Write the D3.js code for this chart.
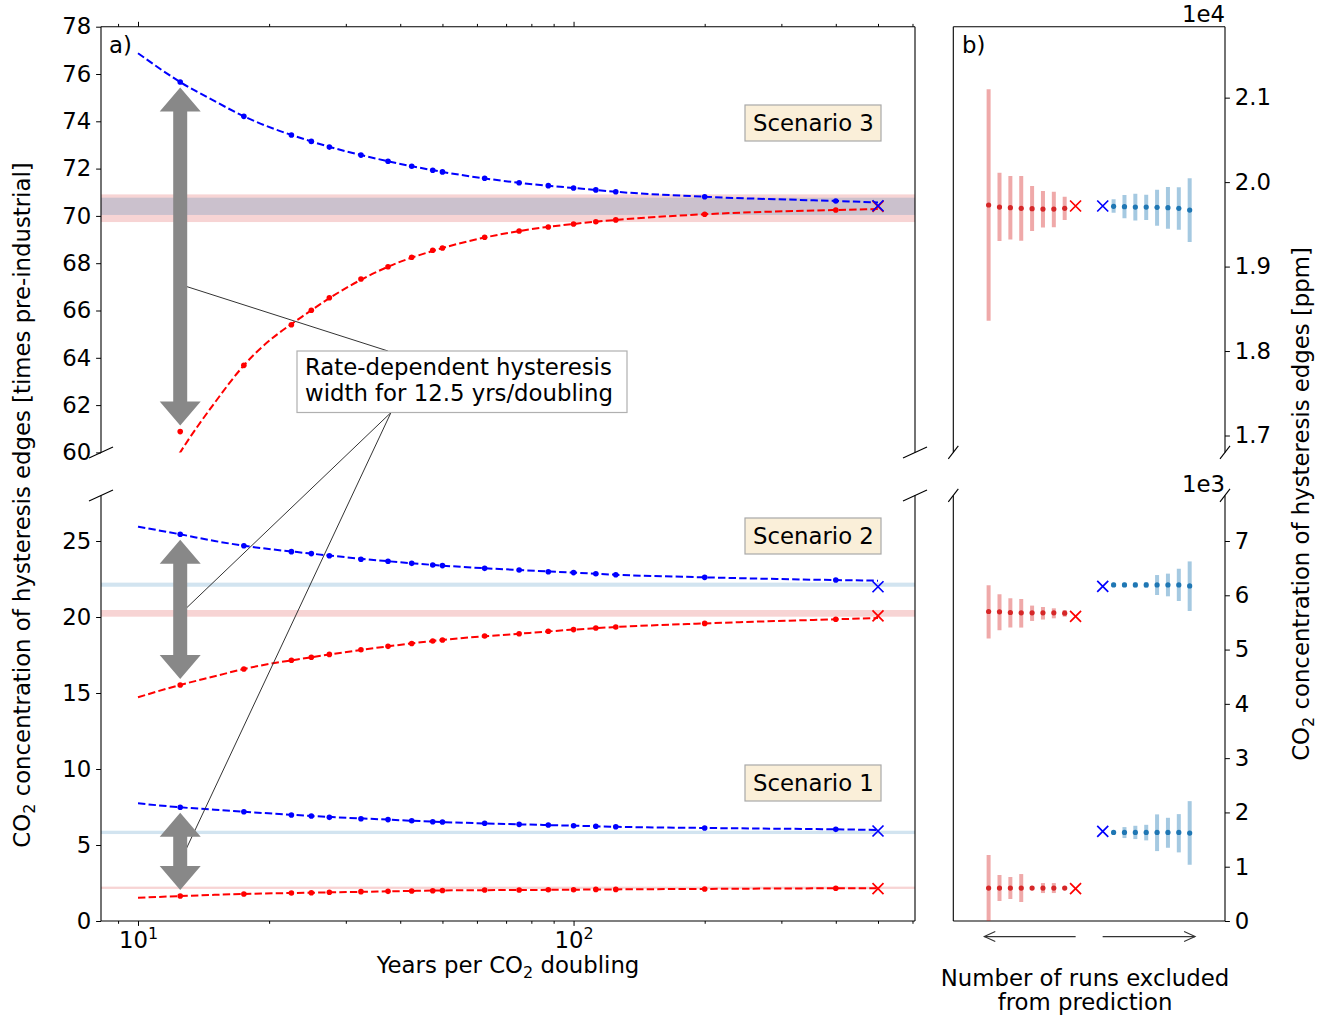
<!DOCTYPE html>
<html><head><meta charset="utf-8">
<script src="https://cdn.jsdelivr.net/npm/d3@7"></script>
<style>
body{margin:0;background:#fff}
svg{display:block}
text{font-family:"DejaVu Sans",sans-serif;fill:#000}
</style>
</head><body>
<svg id="c" width="1325" height="1017"></svg>
<script>
// ---------------- DATA ----------------
// Panel a: years per CO2 doubling at which runs were made
const rates = [12.5, 17.5, 22.5, 25, 27.5, 32.5, 37.5, 42.5, 47.5, 50, 62.5, 75, 87.5, 100, 112.5, 125, 200, 400];
// hysteresis edges [times pre-industrial]
const s3Upper = [75.66, 74.21, 73.42, 73.15, 72.91, 72.57, 72.31, 72.10, 71.93, 71.86, 71.59, 71.40, 71.28, 71.18, 71.10, 71.02, 70.81, 70.63];
const s3Lower = [60.88, 63.68, 65.40, 66.01, 66.54, 67.33, 67.85, 68.25, 68.55, 68.64, 69.10, 69.36, 69.53, 69.66, 69.75, 69.83, 70.07, 70.25];
const s2Upper = [25.44, 24.69, 24.30, 24.17, 24.03, 23.80, 23.67, 23.53, 23.42, 23.38, 23.20, 23.09, 22.98, 22.92, 22.85, 22.78, 22.61, 22.43];
const s2Lower = [15.53, 16.58, 17.15, 17.35, 17.54, 17.85, 18.07, 18.26, 18.42, 18.49, 18.75, 18.90, 19.06, 19.17, 19.28, 19.34, 19.58, 19.85];
const s1Upper = [7.48, 7.19, 6.97, 6.91, 6.82, 6.73, 6.67, 6.60, 6.53, 6.51, 6.43, 6.36, 6.32, 6.27, 6.23, 6.20, 6.12, 6.03];
const s1Lower = [1.64, 1.78, 1.84, 1.86, 1.89, 1.93, 1.95, 1.97, 1.99, 2.01, 2.04, 2.04, 2.06, 2.06, 2.08, 2.08, 2.11, 2.15];
// fitted curves
const fitRates = [10, 12.5, 15, 17.5, 25, 37.5, 50, 75, 100, 125, 200, 400, 500];
const s3UpperFit = [76.88, 75.66, 74.85, 74.21, 73.15, 72.31, 71.86, 71.40, 71.18, 71.02, 70.81, 70.63, 70.57];
const s3LowerFit = [56.8, 60.0, 62.1, 63.68, 66.01, 67.85, 68.64, 69.36, 69.66, 69.83, 70.07, 70.25, 70.29];
const s2UpperFit = [25.94, 25.44, 25.00, 24.69, 24.17, 23.67, 23.38, 23.09, 22.92, 22.78, 22.61, 22.43, 22.39];
const s2LowerFit = [14.72, 15.53, 16.10, 16.58, 17.35, 18.07, 18.49, 18.90, 19.17, 19.34, 19.58, 19.85, 19.93];
const s1UpperFit = [7.74, 7.48, 7.32, 7.19, 6.91, 6.67, 6.51, 6.36, 6.27, 6.20, 6.12, 6.03, 5.99];
const s1LowerFit = [1.53, 1.64, 1.72, 1.78, 1.86, 1.95, 2.01, 2.04, 2.06, 2.08, 2.11, 2.15, 2.15];
// equilibrium (quasi-static) edges at 500 yrs/doubling
const eqRate = 500;
const eqUpper = [70.43, 21.99, 5.92];   // scenario 3, 2, 1
const eqLower = [70.40, 20.07, 2.13];
// predicted ranges (bands)
const bandUpper = [[70.04, 70.77], [21.99, 22.26], [5.72, 5.94]];
const bandLower = [[69.74, 70.91], [20.02, 20.46], [2.11, 2.26]];
const scenarioNames = ["Scenario 3", "Scenario 2", "Scenario 1"];
const widthRate = 12.5;

// Panel b: number of runs excluded from prediction
const nExcluded = [1, 2, 3, 4, 5, 6, 7, 8];
const s3RedMid  = [19690, 19681, 19681, 19685, 19690, 19697, 19705, 19729];
const s3RedLo   = [19551, 19467, 19464, 19421, 19306, 19322, 19302, 18358];
const s3RedHi   = [19827, 19886, 19895, 19954, 20072, 20072, 20111, 21100];
const s3BlueMid = [19713, 19709, 19705, 19705, 19701, 19697, 19690, 19669];
const s3BlueLo  = [19637, 19571, 19547, 19551, 19483, 19448, 19436, 19290];
const s3BlueHi  = [19796, 19847, 19863, 19851, 19910, 19942, 19938, 20045];
const s2RedMid  = [5670, 5676, 5676, 5676, 5676, 5683, 5696, 5701];
const s2RedLo   = [5606, 5576, 5553, 5527, 5405, 5405, 5355, 5203];
const s2RedHi   = [5729, 5760, 5784, 5810, 5932, 5944, 6018, 6184];
const s2BlueMid = [6190, 6190, 6190, 6190, 6190, 6190, 6190, 6172];
const s2BlueLo  = [6157, 6150, 6145, 6140, 6005, 5981, 5895, 5711];
const s2BlueHi  = [6233, 6235, 6240, 6245, 6373, 6399, 6489, 6624];
const s1RedMid  = [607, 607, 607, 607, 607, 607, 607, 607];
const s1RedLo   = [591, 515, 515, 580, 350, 405, 368, 0];
const s1RedHi   = [633, 699, 699, 640, 865, 810, 847, 1215];
const s1BlueMid = [1632, 1632, 1632, 1632, 1632, 1632, 1632, 1620];
const s1BlueLo  = [1602, 1528, 1509, 1485, 1288, 1349, 1264, 1036];
const s1BlueHi  = [1663, 1730, 1754, 1772, 1964, 1901, 1969, 2208];
const eqRedPpm  = [19717, 5613, 595];
const eqBluePpm = [19717, 6165, 1651];
const preIndustrial = 280;

// tick values
const yTopTicks = [60, 62, 64, 66, 68, 70, 72, 74, 76, 78];
const yBotTicks = [0, 5, 10, 15, 20, 25];
const xMajor = [10, 100];
const xMinor = [9, 20, 30, 40, 50, 60, 70, 80, 90, 200, 300, 400, 500, 600];
const yTopTicksB = [17000, 18000, 19000, 20000, 21000];
const yBotTicksB = [0, 1000, 2000, 3000, 4000, 5000, 6000, 7000];

// ---------------- LAYOUT ----------------
const svg = d3.select("#c");
const FS = 22.8;
const aL = 101, aR = 915, bL = 953.3, bR = 1225;
const topT = 26.7, topB = 452.4, botT = 495.4, botB = 921;
const span = Math.log10(500 / 10);
const xA = d3.scaleLog().domain([Math.pow(10, 1 - 0.05 * span), Math.pow(10, Math.log10(500) + 0.05 * span)]).range([aL, aR]);
const yTop = d3.scaleLinear().domain([60, 78]).range([topB, topT]);
const yBot = d3.scaleLinear().domain([0, 28]).range([botB, botT]);
const yTopB = d3.scaleLinear().domain([60 * preIndustrial, 78 * preIndustrial]).range([topB, topT]);
const yBotB = d3.scaleLinear().domain([0, 28 * preIndustrial]).range([botB, botT]);
const xB = d3.scaleLinear().domain([-12.5, 12.5]).range([bL, bR]);

const BLUE = "#0000ff", RED = "#ff0000", TBLUE = "#1f77b4", TRED = "#d62728";

const defs = svg.append("defs");
defs.append("clipPath").attr("id", "clipTop").append("rect").attr("x", aL).attr("y", topT).attr("width", aR - aL).attr("height", topB - topT);
defs.append("clipPath").attr("id", "clipBot").append("rect").attr("x", aL).attr("y", botT).attr("width", aR - aL).attr("height", botB - botT);
defs.append("clipPath").attr("id", "clipTopB").append("rect").attr("x", bL).attr("y", topT).attr("width", bR - bL).attr("height", topB - topT);
defs.append("clipPath").attr("id", "clipBotB").append("rect").attr("x", bL).attr("y", botT).attr("width", bR - bL).attr("height", botB - botT);

const scen = [
  {up: s3Upper, lo: s3Lower, upFit: s3UpperFit, loFit: s3LowerFit, y: yTop, clip: "clipTop"},
  {up: s2Upper, lo: s2Lower, upFit: s2UpperFit, loFit: s2LowerFit, y: yBot, clip: "clipBot"},
  {up: s1Upper, lo: s1Lower, upFit: s1UpperFit, loFit: s1LowerFit, y: yBot, clip: "clipBot"}
];

// ---- panel a: bands
scen.forEach((s, i) => {
  const g = svg.append("g").attr("clip-path", `url(#${s.clip})`);
  [[bandLower[i], TRED], [bandUpper[i], TBLUE]].forEach(([b, c]) => {
    g.append("rect").attr("x", aL).attr("width", aR - aL)
      .attr("y", s.y(b[1])).attr("height", s.y(b[0]) - s.y(b[1]))
      .attr("fill", c).attr("fill-opacity", 0.2);
  });
});

// ---- panel a: curves, dots, X
const crossPath = "M-5.5,-5.5L5.5,5.5M-5.5,5.5L5.5,-5.5";
scen.forEach((s, i) => {
  const g = svg.append("g").attr("clip-path", `url(#${s.clip})`);
  const line = d3.line().x(d => xA(d[0])).y(d => s.y(d[1])).curve(d3.curveMonotoneX);
  [[s.upFit, BLUE], [s.loFit, RED]].forEach(([f, c]) => {
    g.append("path").attr("d", line(fitRates.map((r, k) => [r, f[k]])))
      .attr("fill", "none").attr("stroke", c).attr("stroke-width", 2).attr("stroke-dasharray", "7.4,3.2");
  });
  [[s.up, BLUE], [s.lo, RED]].forEach(([v, c]) => {
    g.selectAll(null).data(rates.map((r, k) => [r, v[k]])).join("circle")
      .attr("cx", d => xA(d[0])).attr("cy", d => s.y(d[1])).attr("r", 2.8).attr("fill", c);
  });
  [[eqLower[i], RED], [eqUpper[i], BLUE]].forEach(([v, c]) => {
    g.append("path").attr("d", crossPath).attr("transform", `translate(${xA(eqRate)},${s.y(v)})`)
      .attr("stroke", c).attr("stroke-width", 1.7).attr("fill", "none");
  });
});

// ---- annotation lines
const boxX = 297, boxY = 351, boxW = 330, boxH = 61.5;
const annTargets = [[yTop, 67.1, 388, boxY], [yBot, 20.2, 391, boxY + boxH], [yBot, 3.9, 391, boxY + boxH]];
annTargets.forEach(([ys, v, bx, by]) => {
  svg.append("line").attr("x1", bx).attr("y1", by).attr("x2", xA(widthRate)).attr("y2", ys(v))
    .attr("stroke", "#333").attr("stroke-width", 1);
});

// ---- gray double arrows
function dblArrow(x, y1, y2) {
  const hw = 20.5, sw = 7, hl = 24;
  const p = [[x, y1], [x + hw, y1 + hl], [x + sw, y1 + hl], [x + sw, y2 - hl], [x + hw, y2 - hl], [x, y2],
             [x - hw, y2 - hl], [x - sw, y2 - hl], [x - sw, y1 + hl], [x - hw, y1 + hl]];
  svg.append("path").attr("d", "M" + p.map(q => q.join(",")).join("L") + "Z").attr("fill", "#888888");
}
scen.forEach(s => {
  const k = rates.indexOf(widthRate);
  dblArrow(xA(widthRate), s.y(s.up[k]) + 5.5, s.y(s.lo[k]) - 6);
});

// ---- annotation box
svg.append("rect").attr("x", boxX).attr("y", boxY).attr("width", boxW).attr("height", boxH)
  .attr("fill", "#fff").attr("stroke", "#b0b0b0").attr("stroke-width", 1.2);
svg.append("text").attr("x", boxX + 8).attr("y", boxY + 24).attr("font-size", FS).text("Rate-dependent hysteresis");
svg.append("text").attr("x", boxX + 8).attr("y", boxY + 50).attr("font-size", FS).text("width for 12.5 yrs/doubling");

// ---- scenario boxes
const scenBoxTop = [105, 518, 765];
scenarioNames.forEach((n, i) => {
  svg.append("rect").attr("x", 745).attr("y", scenBoxTop[i]).attr("width", 136).attr("height", 36)
    .attr("fill", "#faefd9").attr("stroke", "#a8a8a8").attr("stroke-width", 1.2);
  svg.append("text").attr("x", 753).attr("y", scenBoxTop[i] + 26).attr("font-size", FS).text(n);
});

// ---- panel a axes
function styleAxis(g) {
  g.select(".domain").remove();
  g.selectAll("line").attr("stroke", "#000").attr("stroke-width", 1);
  g.selectAll("text").attr("font-size", FS).attr("font-family", "DejaVu Sans").attr("fill", "#000");
}
svg.append("g").attr("transform", `translate(${aL},0)`)
  .call(d3.axisLeft(yTop).tickValues(yTopTicks).tickFormat(d3.format("d")).tickSize(4.9).tickPadding(4.9)).call(styleAxis);
svg.append("g").attr("transform", `translate(${aL},0)`)
  .call(d3.axisLeft(yBot).tickValues(yBotTicks).tickFormat(d3.format("d")).tickSize(4.9).tickPadding(4.9)).call(styleAxis);
// x ticks top (no labels)
svg.append("g").attr("transform", `translate(0,${topT})`)
  .call(d3.axisTop(xA).tickValues(xMajor).tickFormat("").tickSize(4.9)).call(styleAxis);
svg.append("g").attr("transform", `translate(0,${topT})`)
  .call(d3.axisTop(xA).tickValues(xMinor).tickFormat("").tickSize(2.8)).call(styleAxis);
// x ticks bottom
svg.append("g").attr("transform", `translate(0,${botB})`)
  .call(d3.axisBottom(xA).tickValues(xMinor).tickFormat("").tickSize(2.8)).call(styleAxis);
const xb = svg.append("g").attr("transform", `translate(0,${botB})`)
  .call(d3.axisBottom(xA).tickValues(xMajor).tickFormat("").tickSize(4.9)).call(styleAxis);
xb.selectAll(".tick").append("text").attr("y", 27).attr("text-anchor", "middle").attr("font-size", FS)
  .each(function(d) {
    const t = d3.select(this);
    t.append("tspan").text("10");
    t.append("tspan").attr("dy", -9).attr("font-size", FS * 0.7).text(String(Math.round(Math.log10(d))));
  });

// spines
const sp = (x1, y1, x2, y2) => svg.append("line").attr("x1", x1).attr("y1", y1).attr("x2", x2).attr("y2", y2).attr("stroke", "#000").attr("stroke-width", 1.1);
sp(aL, topT, aR, topT); sp(aL, topT, aL, topB); sp(aR, topT, aR, topB);
sp(aL, botB, aR, botB); sp(aL, botT, aL, botB); sp(aR, botT, aR, botB);
sp(bL, topT, bR, topT); sp(bL, topT, bL, topB); sp(bR, topT, bR, topB);
sp(bL, botB, bR, botB); sp(bL, botT, bL, botB); sp(bR, botT, bR, botB);
// break marks
[[aL, 12, 5.5], [aR, 12, 5.5], [bL, 5, 6.5], [bR, 5, 6.5]].forEach(([x, dx, dy]) => {
  sp(x - dx, topB + dy, x + dx, topB - dy);
  sp(x - dx, botT + dy, x + dx, botT - dy);
});

// labels
svg.append("text").attr("x", 109).attr("y", 53).attr("font-size", FS).text("a)");
svg.append("text").attr("x", 962).attr("y", 53).attr("font-size", FS).text("b)");
const xl = svg.append("text").attr("x", (aL + aR) / 2).attr("y", 973).attr("text-anchor", "middle").attr("font-size", FS);
xl.append("tspan").text("Years per CO");
xl.append("tspan").attr("dy", 5).attr("font-size", FS * 0.7).text("2");
xl.append("tspan").attr("dy", -5).text(" doubling");
function rotLabel(x, y, rest) {
  const t = svg.append("text").attr("transform", `translate(${x},${y}) rotate(-90)`).attr("text-anchor", "middle").attr("font-size", FS);
  t.append("tspan").text("CO");
  t.append("tspan").attr("dy", 5).attr("font-size", FS * 0.7).text("2");
  t.append("tspan").attr("dy", -5).text(rest);
}
rotLabel(30, 505, " concentration of hysteresis edges [times pre-industrial]");
rotLabel(1309, 504, " concentration of hysteresis edges [ppm]");

// ---- panel b
const bScen = [
  {rm: s3RedMid, rl: s3RedLo, rh: s3RedHi, bm: s3BlueMid, bl: s3BlueLo, bh: s3BlueHi, y: yTopB, clip: "clipTopB"},
  {rm: s2RedMid, rl: s2RedLo, rh: s2RedHi, bm: s2BlueMid, bl: s2BlueLo, bh: s2BlueHi, y: yBotB, clip: "clipBotB"},
  {rm: s1RedMid, rl: s1RedLo, rh: s1RedHi, bm: s1BlueMid, bl: s1BlueLo, bh: s1BlueHi, y: yBotB, clip: "clipBotB"}
];
const redPos = n => -(1.25 + n), bluePos = n => 1.25 + n;
bScen.forEach((s, i) => {
  const g = svg.append("g").attr("clip-path", `url(#${s.clip})`);
  [[s.rm, s.rl, s.rh, redPos, TRED], [s.bm, s.bl, s.bh, bluePos, TBLUE]].forEach(([m, lo, hi, pos, c]) => {
    g.selectAll(null).data(nExcluded).join("line")
      .attr("x1", (n) => xB(pos(n))).attr("x2", (n) => xB(pos(n)))
      .attr("y1", (n, k) => s.y(lo[k])).attr("y2", (n, k) => s.y(hi[k]))
      .attr("stroke", c).attr("stroke-opacity", 0.4).attr("stroke-width", 4);
    g.selectAll(null).data(nExcluded).join("circle")
      .attr("cx", (n) => xB(pos(n))).attr("cy", (n, k) => s.y(m[k])).attr("r", 2.6).attr("fill", c);
  });
  g.append("path").attr("d", crossPath).attr("transform", `translate(${xB(redPos(0))},${s.y(eqRedPpm[i])})`)
    .attr("stroke", RED).attr("stroke-width", 1.7).attr("fill", "none");
  g.append("path").attr("d", crossPath).attr("transform", `translate(${xB(bluePos(0))},${s.y(eqBluePpm[i])})`)
    .attr("stroke", BLUE).attr("stroke-width", 1.7).attr("fill", "none");
});
svg.append("g").attr("transform", `translate(${bR},0)`)
  .call(d3.axisRight(yTopB).tickValues(yTopTicksB).tickFormat(d => (d / 1e4).toFixed(1)).tickSize(4.9).tickPadding(4.9)).call(styleAxis);
svg.append("g").attr("transform", `translate(${bR},0)`)
  .call(d3.axisRight(yBotB).tickValues(yBotTicksB).tickFormat(d => String(d / 1e3)).tickSize(4.9).tickPadding(4.9)).call(styleAxis);
svg.append("text").attr("x", bR).attr("y", 22).attr("text-anchor", "end").attr("font-size", FS).text("1e4");
svg.append("text").attr("x", bR).attr("y", 492).attr("text-anchor", "end").attr("font-size", FS).text("1e3");

// direction arrows under panel b
function openArrow(x1, x2, y) {
  const d = Math.sign(x2 - x1);
  svg.append("line").attr("x1", x1).attr("y1", y).attr("x2", x2).attr("y2", y).attr("stroke", "#333").attr("stroke-width", 1.1);
  svg.append("path").attr("d", `M${x2 - d * 11},${y - 5}L${x2},${y}L${x2 - d * 11},${y + 5}`)
    .attr("fill", "none").attr("stroke", "#333").attr("stroke-width", 1.1);
}
openArrow(xB(-1.25 + 0.1) - 1, xB(redPos(8) - 0.4), 936.6);
openArrow(xB(1.25 - 0.1) + 1, xB(bluePos(8) + 0.5), 936.6);
svg.append("text").attr("x", 1085).attr("y", 986).attr("text-anchor", "middle").attr("font-size", FS).text("Number of runs excluded");
svg.append("text").attr("x", 1085).attr("y", 1010).attr("text-anchor", "middle").attr("font-size", FS).text("from prediction");
</script>
</body></html>
